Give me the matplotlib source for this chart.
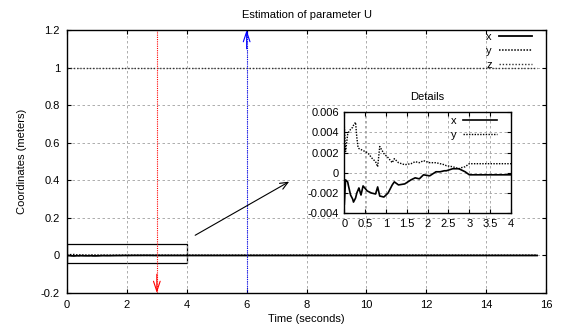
import numpy as np
from matplotlib import pyplot as plt
from matplotlib.patches import Rectangle

plt.rcParams['font.family'] = ['Liberation Sans', 'DejaVu Sans']
plt.rcParams['font.size'] = 8

# detail data (first 4 seconds)
t = [0.0, 0.03, 0.08, 0.1, 0.15, 0.2, 0.22, 0.27, 0.3, 0.33, 0.35, 0.4, 0.45,
     0.55, 0.6, 0.65, 0.75, 0.8, 0.85, 0.95, 1.05, 1.15, 1.2, 1.3, 1.45,
     1.6, 1.7, 1.8, 1.9, 2.05, 2.2, 2.3, 2.4, 2.45, 2.6, 2.75, 2.8, 2.9, 3.0, 4.0]
x_det = [-0.0031, -0.0007, -0.0009, -0.0013, -0.0022, -0.0026, -0.0029, -0.0025,
         -0.002, -0.0017, -0.0015, -0.0022, -0.0013, -0.0018, -0.0019, -0.002,
         -0.0021, -0.0014, -0.0023, -0.0024, -0.002, -0.0012, -0.0009, -0.0012,
         -0.0011, -0.0007, -0.0005, -0.0006, -0.0002, -0.0003, 0.0001, 0.0001,
         0.0002, 0.0002, 0.0004, 0.0004, 0.0003, 0.0001, -0.0002, -0.0002]
y_det = [0.0046, 0.0021, 0.0038, 0.004, 0.0043, 0.0045, 0.0047, 0.005, 0.0035,
         0.0025, 0.0024, 0.0023, 0.0022, 0.002, 0.0018, 0.0015, 0.0011, 0.0006,
         0.0026, 0.0019, 0.0015, 0.001, 0.0014, 0.001, 0.0008, 0.0009, 0.0011,
         0.001, 0.0012, 0.001, 0.001, 0.0009, 0.0008, 0.0007, 0.0006, 0.0004,
         0.0005, 0.0006, 0.0009, 0.0009]

t_end = 15.7
z_val = 1.0

# annotation geometry
zoom_box = (0, -0.04, 4, 0.10)
arrow_from = (4.2, 0.1)
arrow_to = (7.5, 0.4)
red_t = 3
blue_t = 6

grid_kw = dict(color='#a0a0a0', linestyle=(0, (3, 3)), linewidth=0.6)
leg_kw = dict(loc='upper right', frameon=False, markerfirst=False, handlelength=3.0,
              labelspacing=0.35, borderaxespad=0.0, handletextpad=0.6, fontsize=8,
              borderpad=0.2)

fig = plt.figure(figsize=(5.64, 3.28), dpi=100)
ax = fig.add_axes([0.1188, 0.1067, 0.8494, 0.8018])

tm = t + [t_end]
ax.plot(tm, x_det + [x_det[-1]], color='k', linewidth=1.3, label='x')
ax.plot(tm, y_det + [y_det[-1]], color='k', linestyle=(0, (1, 1)), linewidth=1.1, label='y')
ax.plot([0, t_end], [z_val, z_val], color='#333333', linestyle=(0, (1, 1.3)), linewidth=1.0, label='z')

ax.set_xlim(0, 16)
ax.set_ylim(-0.2, 1.2)
ax.set_xticks(np.arange(0, 17, 2))
ax.set_yticks([-0.2, 0, 0.2, 0.4, 0.6, 0.8, 1, 1.2])
ax.set_yticklabels(['-0.2', '0', '0.2', '0.4', '0.6', '0.8', '1', '1.2'])
ax.grid(True, **grid_kw)
ax.tick_params(direction='in', top=True, right=True, length=3, width=0.8, pad=5)
for s in ax.spines.values():
    s.set_linewidth(1.0)
ax.set_title('Estimation of parameter U', fontsize=8, pad=9)
ax.set_xlabel('Time (seconds)', labelpad=3)
ax.set_ylabel('Coordinates (meters)', labelpad=10)

ax.add_patch(Rectangle((zoom_box[0], zoom_box[1]), zoom_box[2], zoom_box[3],
                       fill=False, edgecolor='k', linewidth=0.9))
ax.annotate('', xy=arrow_to, xytext=arrow_from,
            arrowprops=dict(arrowstyle='->,head_length=0.7,head_width=0.3', color='k', linewidth=0.8))

ax.plot([red_t, red_t], [-0.2, 1.2], color='red', linestyle=(0, (1, 1)), linewidth=0.8)
ax.annotate('', xy=(red_t, -0.2), xytext=(red_t, -0.1),
            arrowprops=dict(arrowstyle='->,head_length=0.9,head_width=0.3', color='red',
                            linewidth=0.8, shrinkA=0, shrinkB=0))
ax.plot([blue_t, blue_t], [-0.2, 1.2], color='blue', linestyle=(0, (1, 1)), linewidth=0.8)
ax.annotate('', xy=(blue_t, 1.2), xytext=(blue_t, 1.1),
            arrowprops=dict(arrowstyle='->,head_length=0.9,head_width=0.3', color='blue',
                            linewidth=0.8, shrinkA=0, shrinkB=0))

ax.legend(bbox_to_anchor=(0.975, 1.0), **leg_kw)

# inset
ins = fig.add_axes([0.6105, 0.350, 0.2955, 0.308])
ins.patch.set_alpha(0)
ins.plot(t, x_det, color='k', linewidth=1.2, label='x')
ins.plot(t, y_det, color='k', linestyle=(0, (1, 1)), linewidth=1.0, label='y')
ins.set_xlim(0, 4)
ins.set_ylim(-0.004, 0.006)
ins.set_xticks(np.arange(0, 4.01, 0.5))
ins.set_xticklabels(['0', '0.5', '1', '1.5', '2', '2.5', '3', '3.5', '4'])
ins.set_yticks([-0.004, -0.002, 0, 0.002, 0.004, 0.006])
ins.set_yticklabels(['-0.004', '-0.002', '0', '0.002', '0.004', '0.006'])
ins.grid(True, **grid_kw)
ins.tick_params(direction='in', top=True, right=True, length=3, width=0.8, pad=4)
for s in ins.spines.values():
    s.set_linewidth(1.0)
ins.set_title('Details', fontsize=8, pad=9)
ins.legend(bbox_to_anchor=(0.928, 0.985), **leg_kw)

plt.savefig('out.png', dpi=100)
